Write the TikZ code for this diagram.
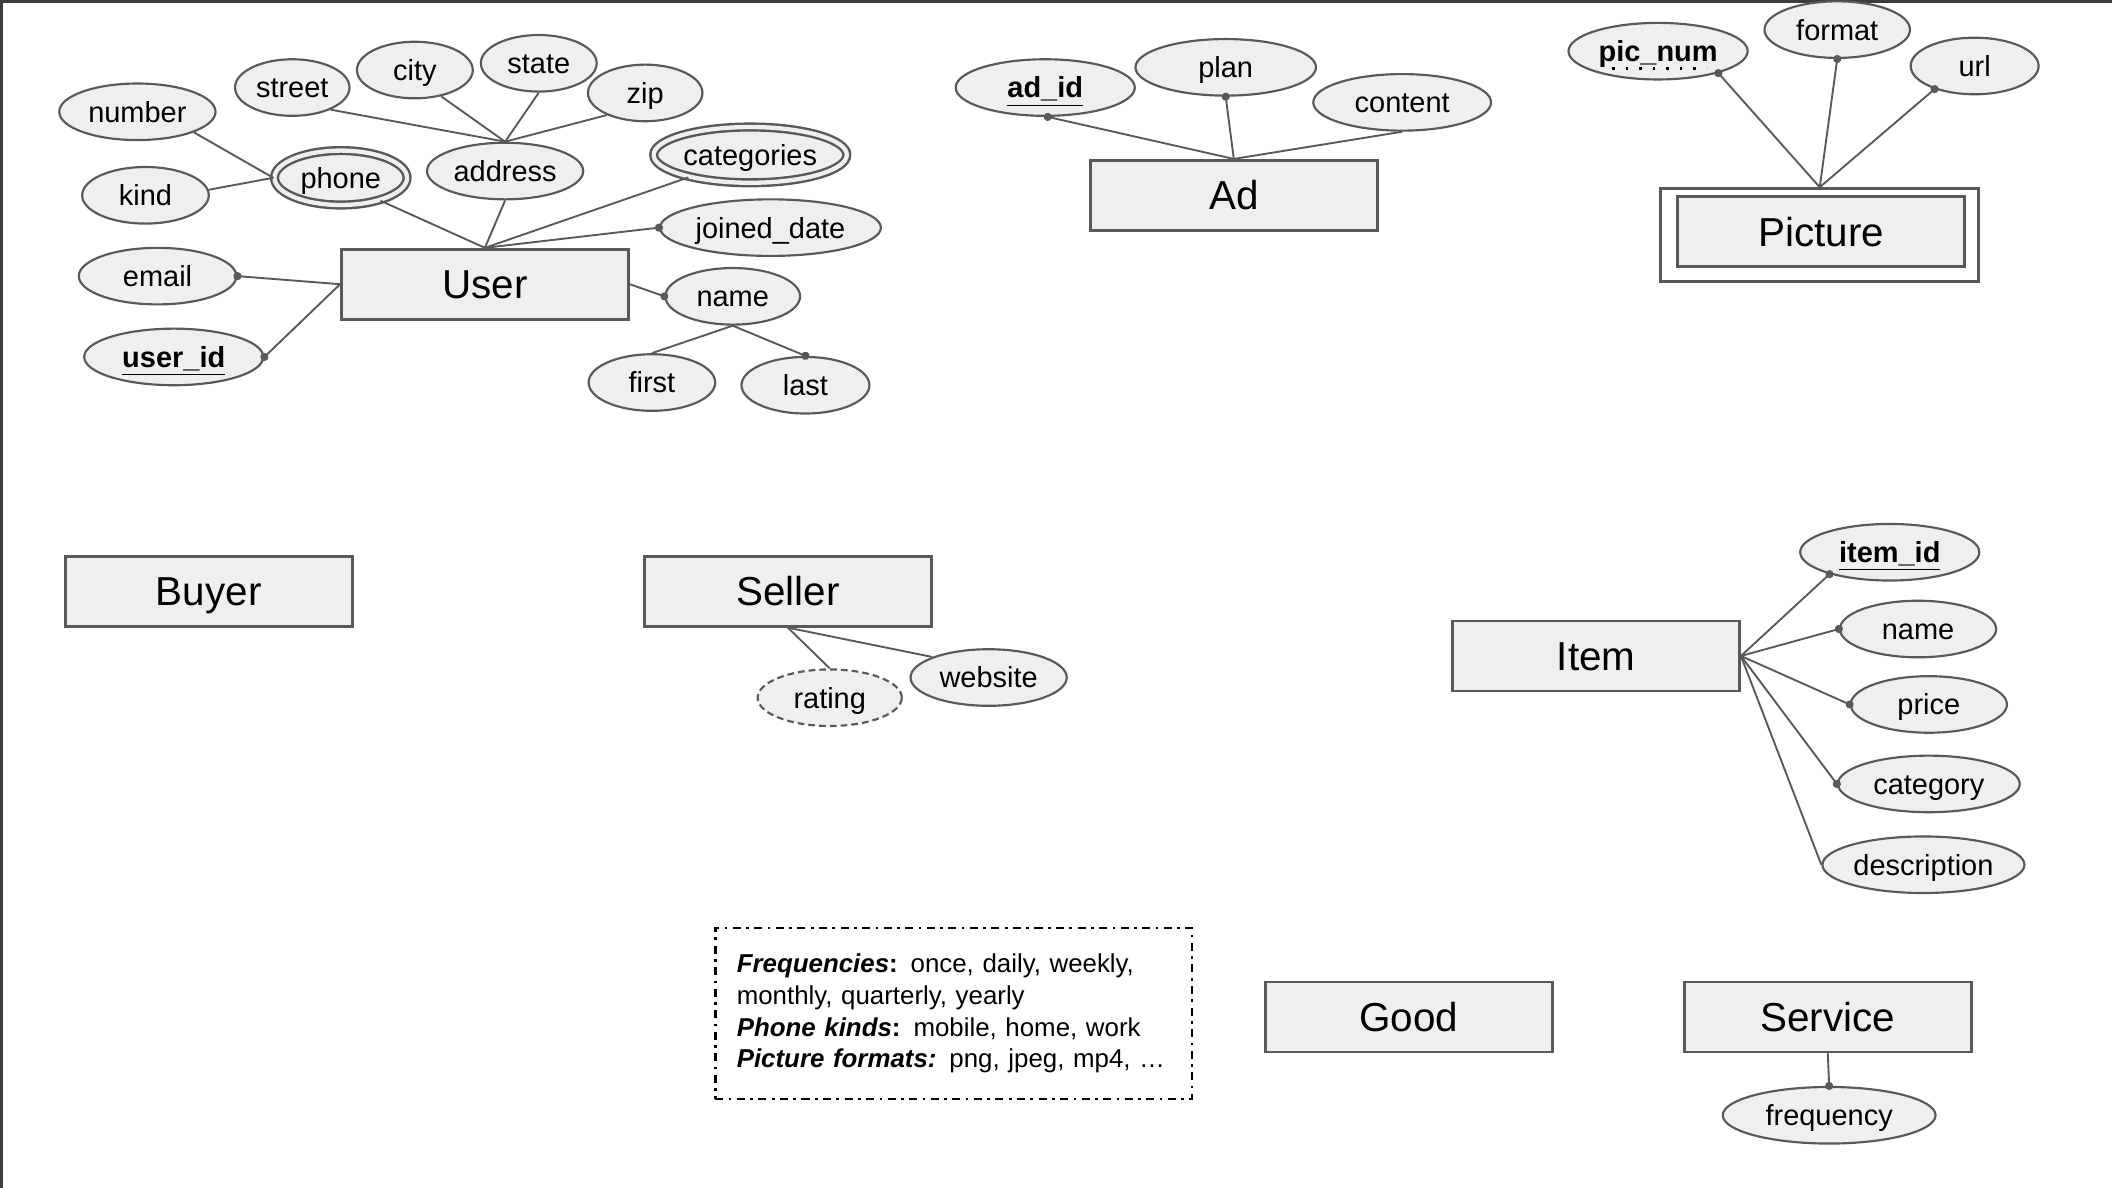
\documentclass[tikz,border=0pt]{standalone}
\usepackage{fontspec}
\setmainfont{Liberation Sans}
\usetikzlibrary{shapes.geometric,arrows.meta}
\definecolor{boxfill}{HTML}{EFEFEF}
\definecolor{boxline}{HTML}{595959}
\definecolor{framegray}{HTML}{3C3C3C}
\tikzset{
  entity/.style={draw=boxline, line width=1pt, fill=boxfill, minimum width=106.5pt, minimum height=26pt, inner sep=0pt, text height=10.8pt, text depth=0pt, font=\fontsize{15}{18}\selectfont},
  weakframe/.style={draw=boxline, line width=1pt, minimum width=118pt, minimum height=34.5pt, inner sep=0pt},
  attr/.style={ellipse, draw=boxline, line width=0.8pt, fill=boxfill, minimum height=21pt, inner sep=0pt, text height=7.7pt, text depth=0pt, font=\fontsize{10.75}{13}\selectfont},
  multiattr/.style={attr, line width=0.9pt, double=boxfill, double distance=1.6pt},
  derivedattr/.style={attr, dash pattern=on 2.5pt off 1.5pt},
  link/.style={draw=boxline, line width=0.7pt},
  dotlink/.style={link, -{Circle[length=3pt]}, shorten >=-1.5pt},
  partialkey/.style={line width=1.2pt, dash pattern=on 1pt off 4pt},
  notebox/.style={draw=black, line width=1pt, dash pattern=on 3pt off 2pt on 1pt off 2pt, minimum height=63.5pt, text width=161pt, inner xsep=8pt, align=left, font=\fontsize{9.6}{11.75}\selectfont}
}
\begin{document}
\begin{tikzpicture}[x=0.5pt,y=-0.5pt]
\useasboundingbox (0,0) rectangle (1568,882);
\draw[framegray, line width=2pt] (0,882) -- (0,0) -- (1568,0);

% User and its attributes
\node[entity] (user) at (360,211) {User};
\node[attr, minimum width=58pt] (number) at (102,83) {number};
\node[attr, minimum width=42.5pt] (street) at (217,65) {street};
\node[attr, minimum width=43pt] (city) at (308,52) {city};
\node[attr, minimum width=43pt] (state) at (400,47) {state};
\node[attr, minimum width=42.5pt] (zip) at (479,69) {zip};
\node[attr, minimum width=47pt] (kind) at (108,145) {kind};
\node[multiattr, minimum width=49.2pt, minimum height=20.2pt] (phone) at (253,132) {phone};
\node[attr, minimum width=58pt] (address) at (375,127) {address};
\node[multiattr, minimum width=71.7pt, minimum height=20.7pt] (categories) at (557,115) {categories};
\node[attr, minimum width=82pt] (joined) at (572,169) {joined\_date};
\node[attr, minimum width=58.5pt] (email) at (117,205) {email};
\node[attr, minimum width=66.5pt] (userid) at (129,265) {\textbf{\underline{user\_id}}};
\node[attr, minimum width=50pt] (uname) at (544,220) {name};
\node[attr, minimum width=47pt] (first) at (484,284) {first};
\node[attr, minimum width=47.5pt] (last) at (598,286) {last};
\draw[link] (number.-20) -- (phone.west);
\draw[link] (kind.5) -- (phone.west);
\draw[link] (phone.-30) -- (user.north);
\draw[link] (address.south) -- (user.north);
\draw[link] (categories.200) -- (user.north);
\draw[dotlink] (user.north) -- (joined.west);
\draw[link] (street.-30) -- (address.north);
\draw[link] (city.-45) -- (address.north);
\draw[link] (state.south) -- (address.north);
\draw[link] (zip.210) -- (address.north);
\draw[dotlink] (user.west) -- (email.east);
\draw[dotlink] (user.west) -- (userid.east);
\draw[dotlink] (user.east) -- (uname.west);
\draw[link] (uname.south) -- (first.north);
\draw[dotlink] (uname.south) -- (last.north);

% Ad
\node[entity] (ad) at (916,145) {Ad};
\node[attr, minimum width=66.5pt] (adid) at (776,65) {\textbf{\underline{ad\_id}}};
\node[attr, minimum width=67pt] (plan) at (910,50) {plan};
\node[attr, minimum width=66pt] (content) at (1041,76) {content};
\draw[dotlink] (ad.north) -- (adid.-85);
\draw[dotlink] (ad.north) -- (plan.south);
\draw[link] (ad.north) -- (content.south);

% Picture (weak entity)
\node[weakframe] (picframe) at (1351,174.5) {};
\node[entity] (picture) at (1352,172) {Picture};
\node[attr, minimum width=66.5pt] (picnum) at (1231,38) {\textbf{pic\_num}};
\draw[partialkey] ([xshift=-17pt,yshift=-2.5pt]picnum.base) -- ([xshift=18pt,yshift=-2.5pt]picnum.base);
\node[attr, minimum width=54pt] (format) at (1364,22) {format};
\node[attr, minimum width=47.5pt] (url) at (1466,49) {url};
\draw[dotlink] (picframe.north) -- (picnum.-20);
\draw[dotlink] (picframe.north) -- (format.south);
\draw[dotlink] (picframe.north) -- (url.210);

% Buyer and Seller
\node[entity] (buyer) at (155,439) {Buyer};
\node[entity] (seller) at (585,439) {Seller};
\node[derivedattr, minimum width=53.5pt] (rating) at (616,518) {rating};
\node[attr, minimum width=58pt] (website) at (734,503) {website};
\draw[link] (seller.south) -- (rating.north);
\draw[link] (seller.south) -- (website.160);

% Item
\node[entity] (item) at (1185,487) {Item};
\node[attr, minimum width=66.5pt] (itemid) at (1403,410) {\textbf{\underline{item\_id}}};
\node[attr, minimum width=58pt] (iname) at (1424,467) {name};
\node[attr, minimum width=58pt] (price) at (1432,523) {price};
\node[attr, minimum width=67.5pt] (category) at (1432,582) {category};
\node[attr, minimum width=75pt] (descr) at (1428,642) {description};
\draw[dotlink] (item.east) -- (itemid.200);
\draw[dotlink] (item.east) -- (iname.west);
\draw[dotlink] (item.east) -- (price.west);
\draw[dotlink] (item.east) -- (category.west);
\draw[link] (item.east) -- (descr.west);

% Good and Service
\node[entity] (good) at (1046,755) {Good};
\node[entity] (service) at (1357,755) {Service};
\node[attr, minimum width=79pt] (freq) at (1358,828) {frequency};
\draw[dotlink] (service.south) -- (freq.north);

% note
\node[notebox] (legend) at (708,752.5) {\textbf{\textit{Frequencies}}\textbf{:} once, daily, weekly,\\ monthly, quarterly, yearly\\ \textbf{\textit{Phone kinds}}\textbf{:} mobile, home, work\\ \textbf{\textit{Picture formats:}} png, jpeg, mp4, …};
\end{tikzpicture}
\end{document}
